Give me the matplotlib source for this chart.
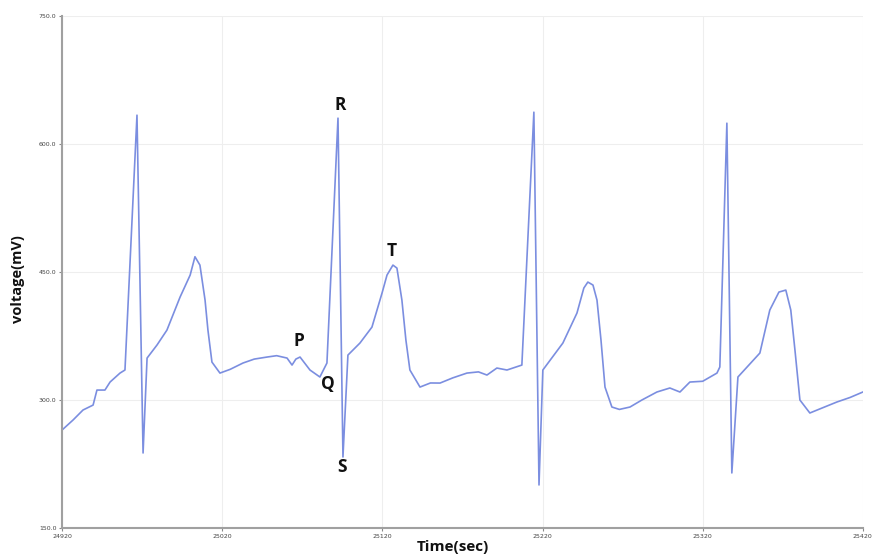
import matplotlib.pyplot as plt

# ECG trace (time, voltage)
time_sec = [24920.0, 24926.9, 24933.1, 24939.4, 24941.8, 24946.8, 24950.0, 24956.2, 24959.3,
            24966.8, 24970.6, 24973.1, 24979.3, 24985.5, 24993.7, 25000.0, 25003.0, 25006.1,
            25009.3, 25011.1, 25013.6, 25018.6, 25025.0, 25033.0, 25040.0, 25048.0, 25054.0,
            25060.5, 25063.6, 25066.0, 25068.6, 25074.8, 25081.0, 25085.4, 25092.3, 25095.4,
            25098.5, 25106.0, 25113.5, 25119.8, 25122.9, 25126.6, 25129.1, 25132.2, 25134.7,
            25137.2, 25143.5, 25150.0, 25156.0, 25164.0, 25172.8, 25180.0, 25185.3, 25191.5,
            25197.8, 25207.1, 25214.6, 25217.8, 25220.2, 25232.7, 25241.5, 25245.8, 25248.3,
            25251.5, 25254.0, 25256.5, 25259.0, 25263.3, 25268.0, 25274.6, 25282.0, 25291.4,
            25299.5, 25305.8, 25312.0, 25320.0, 25328.9, 25330.7, 25335.1, 25338.2, 25342.0,
            25355.7, 25361.9, 25367.6, 25371.9, 25375.0, 25377.6, 25380.7, 25386.9, 25395.0,
            25403.8, 25412.0, 25420.0]
voltage_mv = [264.8, 276.6, 288.3, 294.1, 311.7, 311.7, 321.1, 331.6, 335.2,
              634.0, 237.9, 349.2, 364.5, 382.0, 420.7, 446.5, 468.0, 458.2,
              417.2, 382.0, 344.5, 331.6, 336.0, 343.4, 348.0, 350.4, 352.0,
              349.2, 341.0, 348.0, 350.4, 335.2, 327.0, 343.4, 630.5, 233.2,
              352.7, 366.8, 385.5, 425.4, 446.5, 458.2, 454.7, 417.2, 370.3,
              335.2, 315.2, 320.0, 319.9, 326.0, 331.6, 333.0, 329.3, 337.5,
              335.2, 341.0, 637.5, 200.4, 335.2, 366.8, 402.0, 431.3, 438.3,
              434.8, 417.2, 370.3, 315.2, 291.8, 289.0, 291.8, 300.0, 309.4,
              314.1, 309.4, 321.1, 322.0, 331.6, 338.7, 624.6, 214.5, 327.0,
              355.1, 405.5, 426.6, 428.9, 405.5, 358.6, 300.0, 284.8, 291.0,
              297.7, 303.0, 309.4]

x_ticks = [24920, 25020, 25120, 25220, 25320, 25420]
y_ticks = [150, 300, 450, 600, 750]
y_tick_labels = ['150.0', '300.0', '450.0', '600.0', '750.0']

# wave labels: (letter, time, voltage)
wave_labels = [('R', 25093.5, 645.7), ('P', 25068.0, 369.1), ('Q', 25086.0, 318.8),
               ('S', 25094.8, 221.5), ('T', 25126.0, 474.6)]

fig = plt.figure(figsize=(8.76, 5.59), dpi=100)
ax = fig.add_axes([0.0708, 0.0555, 0.9142, 0.9155])

ax.plot(time_sec, voltage_mv, color='#7b8ee0', linewidth=1.2)

ax.set_xlim(24920, 25420)
ax.set_ylim(150, 750)
ax.set_xticks(x_ticks)
ax.set_xticklabels([str(t) for t in x_ticks], fontsize=4.5, color='#444444')
ax.set_yticks(y_ticks)
ax.set_yticklabels(y_tick_labels, fontsize=4.5, color='#444444')
ax.tick_params(length=2, width=0.8, color='#888888', pad=2)

ax.grid(True, color='#eeeeee', linewidth=0.8)
for side in ['top', 'right']:
    ax.spines[side].set_visible(False)
for side in ['left', 'bottom']:
    ax.spines[side].set_color('#a0a0a0')
    ax.spines[side].set_linewidth(1.5)

for letter, t, v in wave_labels:
    ax.text(t, v, letter, fontsize=12.5, fontweight='bold', family='Open Sans',
            ha='center', va='center', color='#111111')

fig.text(0.021, 0.5, 'voltage(mV)', rotation=90, fontsize=10.5, fontweight='bold',
         family='Open Sans', ha='center', va='center', color='#111111')
fig.text(0.517, 0.022, 'Time(sec)', fontsize=11, fontweight='bold',
         family='Open Sans', ha='center', va='center', color='#111111')

fig.savefig('out.png', dpi=100)
